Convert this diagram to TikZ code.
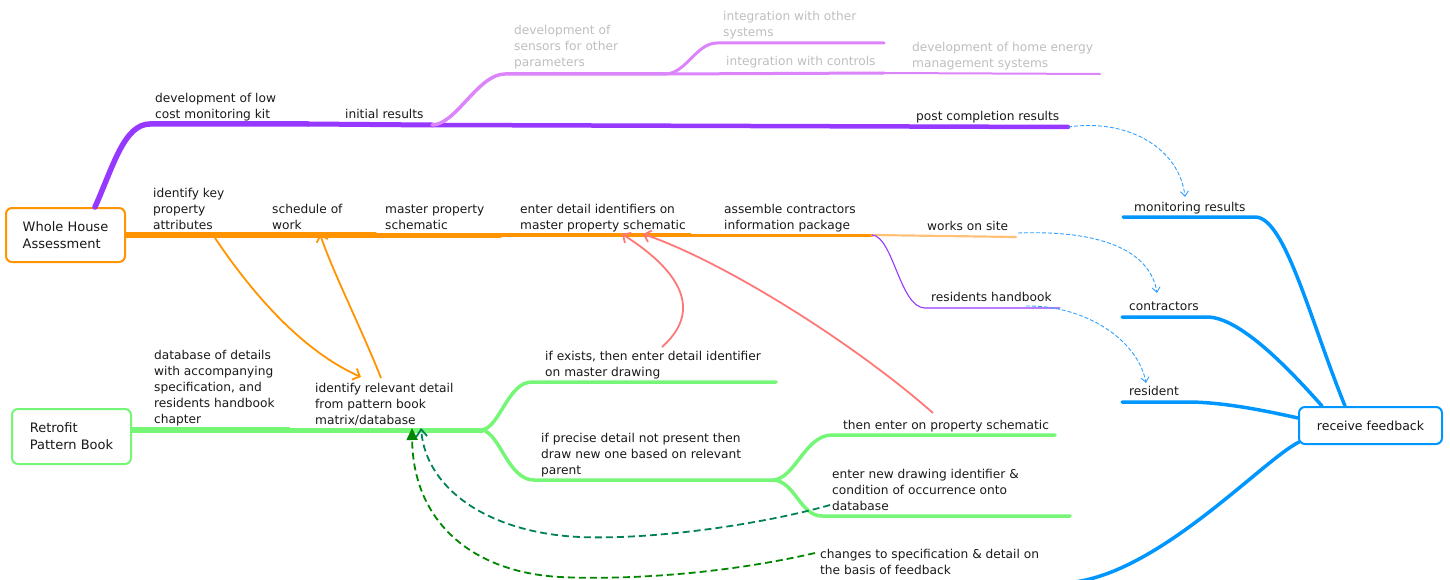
\documentclass[tikz,border=0pt]{standalone}
\usepackage{fontspec}
\setmainfont{DejaVu Sans}
\usetikzlibrary{arrows.meta}
\definecolor{cPurple}{RGB}{150,56,255}
\definecolor{cLilac}{RGB}{220,132,250}
\definecolor{cOrange}{RGB}{255,148,0}
\definecolor{cPeach}{RGB}{255,192,120}
\definecolor{cGreen}{RGB}{118,246,118}
\definecolor{cBlue}{RGB}{0,150,255}
\definecolor{cDash}{RGB}{50,160,255}
\definecolor{cRed}{RGB}{255,120,120}
\definecolor{cDkGreen}{RGB}{0,135,0}
\definecolor{cTeal}{RGB}{0,130,85}
\definecolor{cGrey}{RGB}{190,190,190}
\definecolor{cInk}{RGB}{25,25,25}
\begin{document}
\begin{tikzpicture}[x=1pt,y=-1pt,
  lab/.style={anchor=south west, inner sep=0pt, text depth=0pt, align=left, text=cInk, font=\fontsize{12.2}{16}\selectfont},
  faint/.style={lab, text=cGrey},
  topic/.style={draw, line width=2pt, rounded corners=6pt, fill=white, inner sep=0pt, align=left, text=cInk},
  branch/.style={line cap=round, line join=round},
  root/.style={line cap=butt},
  link/.style={line width=1.8pt, -{Straight Barb[length=6pt,width=12pt]}},
  fb/.style={cDash, line width=0.9pt, dash pattern=on 4pt off 2pt, -{Straight Barb[length=5pt,width=8pt]}},
  dashlink/.style={line width=1.8pt, dash pattern=on 7pt off 4pt},
]
\useasboundingbox (0,0) rectangle (1450,580);

% ---------- central topics ----------
\node[topic, draw=cOrange, minimum width=119pt, minimum height=54pt, font=\fontsize{13}{17}\selectfont] (wha) at (65.5,235) {Whole House\\Assessment};
\node[topic, draw=cGreen, minimum width=119pt, minimum height=55pt, font=\fontsize{13}{17}\selectfont] (rpb) at (71.5,436.5) {Retrofit\\Pattern Book};
\node[topic, draw=cBlue, minimum width=143pt, minimum height=37pt, font=\fontsize{12.5}{16}\selectfont] (rf) at (1370.5,425.5) {receive feedback};

% ---------- branch points ----------
\coordinate (p0) at (95,207);
\coordinate (p1) at (308,124);
\coordinate (p2) at (432,125);
\coordinate (p3) at (1068,127);
\coordinate (s1) at (665,74);
\coordinate (s2) at (884,43);
\coordinate (s3) at (884,73);
\coordinate (s4) at (1100,74);
\coordinate (o1) at (238,235);
\coordinate (o2) at (375,235);
\coordinate (o3) at (500,235);
\coordinate (o4) at (690,235);
\coordinate (o5) at (872,235);
\coordinate (o6) at (1016,237);
\coordinate (h1) at (1060,308);
\coordinate (g1) at (290,430);
\coordinate (g2) at (482,430);
\coordinate (g3) at (776,382);
\coordinate (g4) at (773,480);
\coordinate (g5) at (1055,435);
\coordinate (g6) at (1070,516);
\coordinate (b1) at (1123,217);
\coordinate (b2) at (1122,317);
\coordinate (b3) at (1122,402);
\coordinate (b4) at (815,583);

% ---------- monitoring kit branch ----------
\draw[branch, cPurple, line width=5.5pt] (p0) .. controls (113,167) and (124,124) .. (150,124) -- (p1);
\draw[branch, cPurple, line width=5pt] (p1) -- (p2);
\draw[branch, cPurple, line width=4.5pt] (p2) -- (p3);
\draw[branch, cLilac, line width=3.5pt] (p2) .. controls (456,125) and (478,74) .. (505,74) -- (s1);
\draw[branch, cLilac, line width=3pt] (s1) .. controls (686,74) and (696,43) .. (717,43) -- (s2);
\draw[branch, cLilac, line width=3pt] (s1) -- (s3);
\draw[branch, cLilac, line width=2pt] (s3) -- (s4);

% ---------- assessment branch ----------
\draw[root, cOrange, line width=6pt] (wha.east) -- (o1);
\draw[branch, cOrange, line width=5.5pt] (o1) -- (o2);
\draw[branch, cOrange, line width=5pt] (o2) -- (o3);
\draw[branch, cOrange, line width=4pt] (o3) -- (o4);
\draw[branch, cOrange, line width=3pt] (o4) -- (o5);
\draw[branch, cPeach, line width=2.2pt] (o5) -- (o6);
\draw[branch, cPurple, line width=1.1pt] (o5) .. controls (893,236) and (900,308) .. (925,308) -- (h1);

% ---------- pattern book branch ----------
\draw[root, cGreen, line width=6pt] ([yshift=6.5pt]rpb.east) -- (g1);
\draw[branch, cGreen, line width=5pt] (g1) -- (g2);
\draw[branch, cGreen, line width=3.5pt] (g2) .. controls (500,427) and (508,382) .. (532,382) -- (g3);
\draw[branch, cGreen, line width=3.5pt] (g2) .. controls (500,433) and (508,480) .. (534,480) -- (g4);
\draw[branch, cGreen, line width=3.5pt] (g4) .. controls (795,479) and (805,435) .. (832,435) -- (g5);
\draw[branch, cGreen, line width=3.5pt] (g4) .. controls (795,481) and (800,516) .. (822,516) -- (g6);

% ---------- feedback branch ----------
\draw[branch, cBlue, line width=3.5pt] (b1) -- (1255,217) .. controls (1285,217) and (1310,320) .. ([xshift=-25.5pt]rf.north);
\draw[branch, cBlue, line width=3.5pt] (b2) -- (1207,317) .. controls (1240,317) and (1290,370) .. ([xshift=-48.5pt]rf.north);
\draw[branch, cBlue, line width=3.5pt] (b3) -- (1187,402) .. controls (1222,402) and (1262,410) .. ([yshift=7.5pt]rf.west);
\draw[branch, cBlue, line width=3.5pt] ([shift={(1pt,3pt)}]rf.south west) .. controls (1260,462) and (1150,583) .. (1060,583) -- (b4);

% ---------- labels ----------
\node[lab] (kit) at (155,119) {development of low\\cost monitoring kit};
\node[lab] (ini) at (345,119) {initial results};
\node[lab] (post) at (916,121) {post completion results};
\node[faint] (sen) at (514,67) {development of\\sensors for other\\parameters};
\node[faint] (ios) at (723,37) {integration with other\\systems};
\node[faint] (ic) at (726,66) {integration with controls};
\node[faint] (hem) at (912,68) {development of home energy\\management systems};

\node[lab] (ika) at (153,230) {identify key\\property\\attributes};
\node[lab] (sow) at (272,230) {schedule of\\work};
\node[lab] (mps) at (385,230) {master property\\schematic};
\node[lab] (edi) at (520,230) {enter detail identifiers on\\master property schematic};
\node[lab] (acp) at (724,230) {assemble contractors\\information package};
\node[lab] (wos) at (927,231) {works on site};
\node[lab] (rhb) at (931,302) {residents handbook};

\node[lab] (dod) at (154,424) {database of details\\with accompanying\\specification, and\\residents handbook\\chapter};
\node[lab] (ird) at (315,425) {identify relevant detail\\from pattern book\\matrix/database};
\node[lab] (iex) at (545,377) {if exists, then enter detail identifier\\on master drawing};
\node[lab] (ipd) at (541,475) {if precise detail not present then\\draw new one based on relevant\\parent};
\node[lab] (tep) at (843,430) {then enter on property schematic};
\node[lab] (end) at (832,511) {enter new drawing identifier \&\\condition of occurrence onto\\database};
\node[lab] (chg) at (820,575) {changes to specification \& detail on\\the basis of feedback};

\node[lab] (mon) at (1134,212) {monitoring results};
\node[lab] (con) at (1129,311) {contractors};
\node[lab] (res) at (1129,396) {resident};

% ---------- cross links ----------
\coordinate (ok) at (215,238);
\coordinate (oi) at (361,377);
\coordinate (ob) at (381,378);
\coordinate (os) at (320,234);
\draw[cOrange, link] (ok) .. controls (250,290) and (300,350) .. (oi);
\draw[cOrange, link] (ob) .. controls (362,330) and (332,270) .. (os);

\coordinate (r1) at (662,347);
\coordinate (r1t) at (622,234);
\coordinate (r2) at (933,413);
\coordinate (r2t) at (643,234);
\draw[cRed, link] (r1) .. controls (715,300) and (655,255) .. (r1t);
\draw[cRed, link] (r2) .. controls (850,340) and (720,260) .. (r2t);

\coordinate (f1t) at (1185,197);
\coordinate (f2s) at (1018,233);
\coordinate (f2t) at (1157,293);
\coordinate (f3s) at (1026,306);
\coordinate (f3t) at (1146,383);
\draw[fb] (p3) .. controls (1130,118) and (1180,150) .. (f1t);
\draw[fb] (f2s) .. controls (1100,230) and (1150,250) .. (f2t);
\draw[fb] (f3s) .. controls (1085,305) and (1138,340) .. (f3t);

\coordinate (d1s) at (815,553);
\coordinate (d1t) at (412,428);
\coordinate (d2s) at (830,505);
\coordinate (d2t) at (421,428);
\draw[cDkGreen, dashlink, -{Triangle[length=12pt,width=11pt]}] (d1s) .. controls (720,575) and (620,580) .. (560,577) .. controls (470,572) and (413,520) .. (d1t);
\draw[cTeal, dashlink, -{Straight Barb[length=7pt,width=11pt]}] (d2s) .. controls (760,525) and (650,540) .. (580,537) .. controls (490,533) and (426,490) .. (d2t);
\end{tikzpicture}
\end{document}
